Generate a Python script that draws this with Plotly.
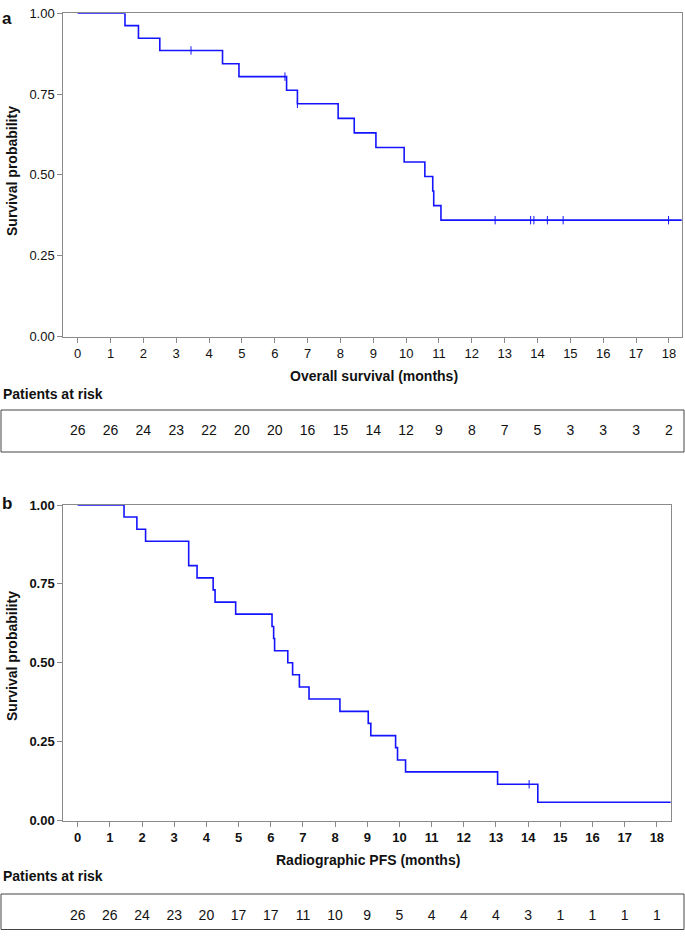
import plotly.graph_objects as go

# ---------------- data ----------------
months = list(range(0, 19))
month_labels = [str(m) for m in months]

# Panel a: overall survival (step curve)
os_times = [0, 1.44, 1.85, 2.50, 4.41, 4.91, 6.36, 6.69, 7.93, 8.42, 9.08, 9.94, 10.57, 10.81, 10.84, 11.06, 18.40]
os_surv = [1.0, 0.962, 0.923, 0.885, 0.844, 0.804, 0.762, 0.720, 0.675, 0.630, 0.585, 0.540, 0.495, 0.450, 0.405, 0.360, 0.360]
os_cens_t = [3.45, 6.31, 6.69, 12.71, 13.79, 13.89, 14.30, 14.78, 17.99]
os_cens_s = [0.885, 0.804, 0.720, 0.360, 0.360, 0.360, 0.360, 0.360, 0.360]
os_risk = [26, 26, 24, 23, 22, 20, 20, 16, 15, 14, 12, 9, 8, 7, 5, 3, 3, 3, 2]

# Panel b: radiographic PFS
pfs_times = [0, 1.44, 1.84, 2.11, 3.45, 3.71, 4.21, 4.27, 4.91, 6.04, 6.09, 6.12, 6.53, 6.68, 6.89, 7.19, 8.15,
             9.03, 9.11, 9.88, 9.94, 10.19, 13.05, 14.30, 18.45]
pfs_surv = [1.0, 0.962, 0.923, 0.885, 0.808, 0.769, 0.731, 0.692, 0.654, 0.615, 0.577, 0.538, 0.500, 0.462, 0.423,
            0.385, 0.346, 0.308, 0.269, 0.231, 0.192, 0.154, 0.115, 0.058, 0.058]
pfs_cens_t = [14.03]
pfs_cens_s = [0.115]
pfs_risk = [26, 26, 24, 23, 20, 17, 17, 11, 10, 9, 5, 4, 4, 4, 3, 1, 1, 1, 1]

y_ticks = [0, 0.25, 0.5, 0.75, 1.0]
y_labels = ["0.00", "0.25", "0.50", "0.75", "1.00"]

# ---------------- layout helpers ----------------
W, H = 685, 938
TOP_OFF, VSCALE = 7.0, 0.984   # how the photographed page maps figure pixels vertically

def px(x):
    return x / W

def ry(y):
    """paper y for a target pixel row of the final picture"""
    fy = (y - TOP_OFF) / VSCALE
    fy = min(max(fy, 0.0), H - 0.5)
    return 1 - fy / H

FONT = "Liberation Sans, Arial, sans-serif"
BLUE = "#1414ff"
AX = "#8a8a8a"

fig = go.Figure()

fig.add_trace(go.Scatter(x=os_times, y=os_surv, mode="lines", line=dict(shape="hv", color=BLUE, width=1.6),
                         xaxis="x", yaxis="y", showlegend=False))
fig.add_trace(go.Scatter(x=os_cens_t, y=os_cens_s, mode="markers",
                         marker=dict(symbol="line-ns", size=6, line=dict(color=BLUE, width=1)),
                         xaxis="x", yaxis="y", showlegend=False))
fig.add_trace(go.Scatter(x=pfs_times, y=pfs_surv, mode="lines", line=dict(shape="hv", color=BLUE, width=1.6),
                         xaxis="x3", yaxis="y3", showlegend=False))
fig.add_trace(go.Scatter(x=pfs_cens_t, y=pfs_cens_s, mode="markers",
                         marker=dict(symbol="line-ns", size=6, line=dict(color=BLUE, width=1)),
                         xaxis="x3", yaxis="y3", showlegend=False))

# risk tables (text rows on hidden axes sharing the x scale)
fig.add_trace(go.Scatter(x=months, y=[0] * len(months), mode="text", text=[str(v) for v in os_risk],
                         textfont=dict(family=FONT, size=14, color="#111"), textposition="middle center",
                         cliponaxis=False, xaxis="x2", yaxis="y2", showlegend=False))
fig.add_trace(go.Scatter(x=months, y=[0] * len(months), mode="text", text=[str(v) for v in pfs_risk],
                         textfont=dict(family=FONT, size=14, color="#111"), textposition="middle center",
                         cliponaxis=False, xaxis="x4", yaxis="y4", showlegend=False))

xa_dom = [px(63.3), px(681.7)]
xb_dom = [px(63.3), px(670.7)]
xa_rng = [-0.438, 18.39]
xb_rng = [-0.447, 18.43]

def xaxis_cfg(dom, rng, bold, anchor):
    return dict(domain=dom, range=rng, tickvals=months, ticktext=month_labels, showline=True, mirror=True,
                linecolor=AX, linewidth=1, ticks="outside", ticklen=5, tickcolor=AX, tickwidth=1,
                showgrid=False, zeroline=False, anchor=anchor, layer="below traces",
                tickfont=dict(family=FONT, size=13, color="#111", weight="bold" if bold else "normal"))

def yaxis_cfg(dom, bold, anchor):
    return dict(domain=dom, range=[0, 1], tickvals=y_ticks, ticktext=y_labels, showline=True, mirror=True,
                linecolor=AX, linewidth=1, ticks="outside", ticklen=5, tickcolor=AX, tickwidth=1,
                showgrid=False, zeroline=False, anchor=anchor, layer="below traces",
                tickfont=dict(family=FONT, size=13, color="#111", weight="bold" if bold else "normal"))

hidden = dict(visible=False, showgrid=False, zeroline=False)

fig.update_layout(
    width=W, height=H, margin=dict(l=0, r=0, t=0, b=0),
    paper_bgcolor="white", plot_bgcolor="white",
    font=dict(family=FONT, color="#111"),
    xaxis=xaxis_cfg(xa_dom, xa_rng, False, "y"),
    yaxis=yaxis_cfg([ry(336.5), ry(13.3)], False, "x"),
    xaxis3=xaxis_cfg(xb_dom, xb_rng, True, "y3"),
    yaxis3=yaxis_cfg([ry(820.5), ry(505)], True, "x3"),
    xaxis2=dict(domain=xa_dom, range=xa_rng, anchor="y2", **hidden),
    yaxis2=dict(domain=[ry(441), ry(421)], range=[-1, 1], anchor="x2", **hidden),
    xaxis4=dict(domain=xb_dom, range=xb_rng, anchor="y4", **hidden),
    yaxis4=dict(domain=[ry(926), ry(906)], range=[-1, 1], anchor="x4", **hidden),
)

shapes = [
    dict(type="rect", xref="paper", yref="paper", x0=px(1), x1=px(684), y0=ry(452), y1=ry(410),
         line=dict(color="#444", width=1)),
    dict(type="rect", xref="paper", yref="paper", x0=px(1), x1=px(684), y0=ry(936.5), y1=ry(894),
         line=dict(color="#444", width=1)),
]
fig.update_layout(shapes=shapes)

def ann(text, x, y, size=13, bold=True, xanchor="center", angle=0, yanchor="middle"):
    return dict(text=f"<b>{text}</b>" if bold else text, x=x, y=y, xref="paper", yref="paper",
                xanchor=xanchor, yanchor=yanchor, showarrow=False, textangle=angle,
                font=dict(family=FONT, size=size, color="#111"))

annotations = [
    ann("a", px(0), 1.0, size=17, xanchor="left", yanchor="top"),
    ann("b", px(0), ry(503), size=17, xanchor="left"),
    ann("Survival probability", px(12), ry(171), size=14, angle=-90),
    ann("Survival probability", px(12), ry(656), size=14, angle=-90),
    ann("Overall survival (months)", px(373.5), ry(376), size=14),
    ann("Radiographic PFS (months)", px(368), ry(860), size=14),
    ann("Patients at risk", px(1), ry(394), size=14, xanchor="left"),
    ann("Patients at risk", px(1), ry(876), size=14, xanchor="left"),
]
fig.update_layout(annotations=annotations)

js = ("var s=document.createElement('style');"
      "s.textContent='html,body{margin:0!important;padding:0!important;overflow:hidden!important;}';"
      "document.head.appendChild(s);")
fig.write_html("out.html", config={"displayModeBar": False}, post_script=js)
